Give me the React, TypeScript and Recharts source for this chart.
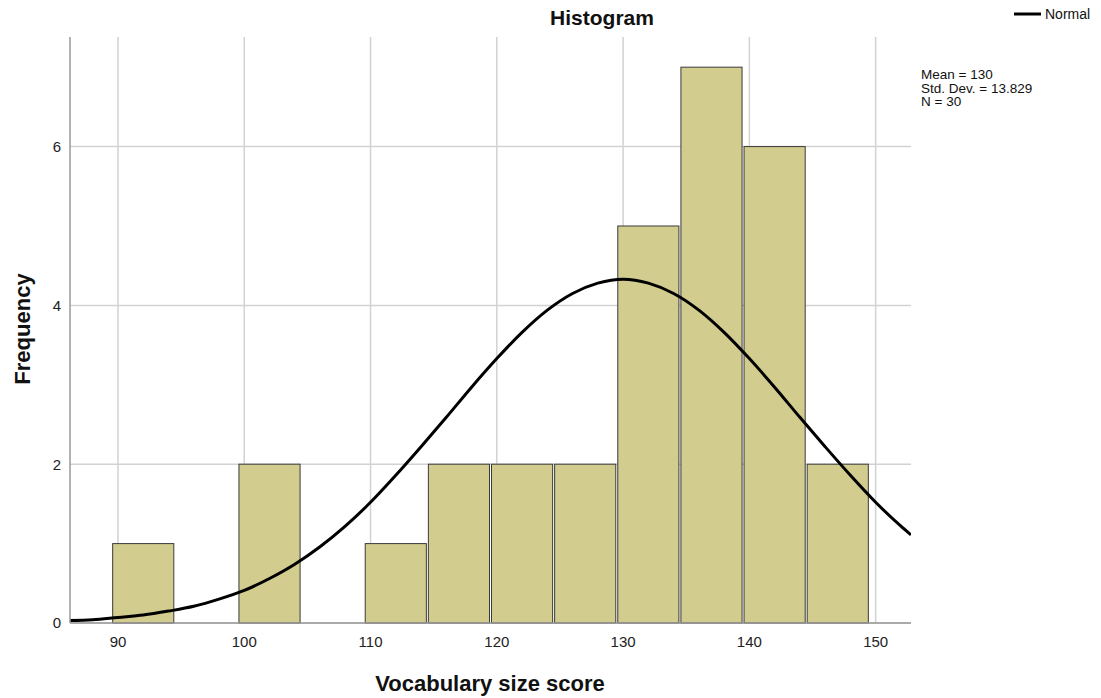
import React from "react";
import {
  ComposedChart,
  Line,
  XAxis,
  YAxis,
  CartesianGrid,
  ReferenceArea,
} from "recharts";

// Histogram bins (lower edge, upper edge, count)
const binLows = [89.5, 99.5, 109.5, 114.5, 119.5, 124.5, 129.5, 134.5, 139.5, 144.5];
const binHighs = [94.5, 104.5, 114.5, 119.5, 124.5, 129.5, 134.5, 139.5, 144.5, 149.5];
const binCounts = [1, 2, 1, 2, 2, 2, 5, 7, 6, 2];

// Normal curve
const curveX = [86.2, 88, 90, 92, 94, 96, 98, 100, 102, 104, 106, 108, 110, 112, 114, 116, 118, 120, 122, 124, 126, 128, 130, 132, 134, 136, 138, 140, 142, 144, 146, 148, 150, 152, 152.8];
const curveY = [0.03, 0.04, 0.07, 0.1, 0.15, 0.21, 0.3, 0.41, 0.56, 0.74, 0.96, 1.22, 1.52, 1.86, 2.22, 2.59, 2.97, 3.33, 3.66, 3.94, 4.15, 4.28, 4.33, 4.28, 4.15, 3.94, 3.66, 3.33, 2.97, 2.59, 2.22, 1.86, 1.52, 1.22, 1.11];

const xTicks = [90, 100, 110, 120, 130, 140, 150];
const yTicks = [0, 2, 4, 6];
const statLines = ["Mean = 130", "Std. Dev. = 13.829", "N = 30"];
const seriesName = "Normal";

const FONT = '"Liberation Sans", Arial, Helvetica, sans-serif';
const BAR_FILL = "#d2cc8f";
const BAR_STROKE = "#3a3a3a";

const curveData = curveX.map((x, i) => ({ x, normal: curveY[i] }));

const BarShape = (props: any) => {
  const { x, y, width, height } = props;
  if (width == null || height == null) return null;
  return (
    <rect
      x={x + 1}
      y={y}
      width={Math.max(0, width - 2)}
      height={height}
      fill={BAR_FILL}
      stroke={BAR_STROKE}
      strokeWidth={1}
    />
  );
};

export default function App() {
  return (
    <div style={{ position: "absolute", left: 0, top: 0, width: 1101, height: 698, background: "#fff", fontFamily: FONT }}>
      <ComposedChart
        width={1101}
        height={698}
        data={curveData}
        margin={{ top: 37, right: 190, bottom: 0, left: 0 }}
      >
        <CartesianGrid
          stroke="#d2d2d2"
          strokeWidth={1.5}
          horizontalValues={yTicks}
          verticalValues={xTicks}
        />
        <XAxis
          dataKey="x"
          type="number"
          domain={[86.2, 152.8]}
          ticks={xTicks}
          allowDataOverflow
          height={75}
          tickLine={false}
          tickMargin={7}
          axisLine={{ stroke: "#999", strokeWidth: 1.5 }}
          tick={{ fill: "#222", fontSize: 15, fontFamily: FONT }}
        />
        <YAxis
          type="number"
          domain={[0, 7.38]}
          ticks={yTicks}
          allowDataOverflow
          width={70}
          tickLine={false}
          tickMargin={3}
          axisLine={{ stroke: "#999", strokeWidth: 1.5 }}
          tick={{ fill: "#222", fontSize: 15, fontFamily: FONT }}
        />
        {binCounts.map((c, i) => (
          <ReferenceArea
            key={i}
            x1={binLows[i]}
            x2={binHighs[i]}
            y1={0}
            y2={c}
            fill={BAR_FILL}
            fillOpacity={1}
            stroke={BAR_STROKE}
            shape={BarShape}
            ifOverflow="visible"
          />
        ))}
        <Line
          type="monotone"
          dataKey="normal"
          name={seriesName}
          stroke="#000"
          strokeWidth={3}
          dot={false}
          activeDot={false}
          isAnimationActive={false}
        />
      </ComposedChart>
      <svg
        width={1101}
        height={698}
        style={{ position: "absolute", left: 0, top: 0, pointerEvents: "none" }}
      >
        <text x={602} y={25} textAnchor="middle" fontSize={21} fontWeight="bold" fontFamily={FONT} fill="#111">
          Histogram
        </text>
        <line x1={1014} y1={14} x2={1041} y2={14} stroke="#000" strokeWidth={3} />
        <text x={1045} y={19} fontSize={14} fontFamily={FONT} fill="#111">
          {seriesName}
        </text>
        <text x={490} y={691} textAnchor="middle" fontSize={22} fontWeight="bold" fontFamily={FONT} fill="#111">
          Vocabulary size score
        </text>
        <text
          x={0}
          y={0}
          transform="translate(30 329) rotate(-90)"
          textAnchor="middle"
          fontSize={22}
          fontWeight="bold"
          fontFamily={FONT}
          fill="#111"
        >
          Frequency
        </text>
        {statLines.map((s, i) => (
          <text key={i} x={921} y={79 + i * 13.5} fontSize={13.5} fontFamily={FONT} fill="#111">
            {s}
          </text>
        ))}
      </svg>
    </div>
  );
}
